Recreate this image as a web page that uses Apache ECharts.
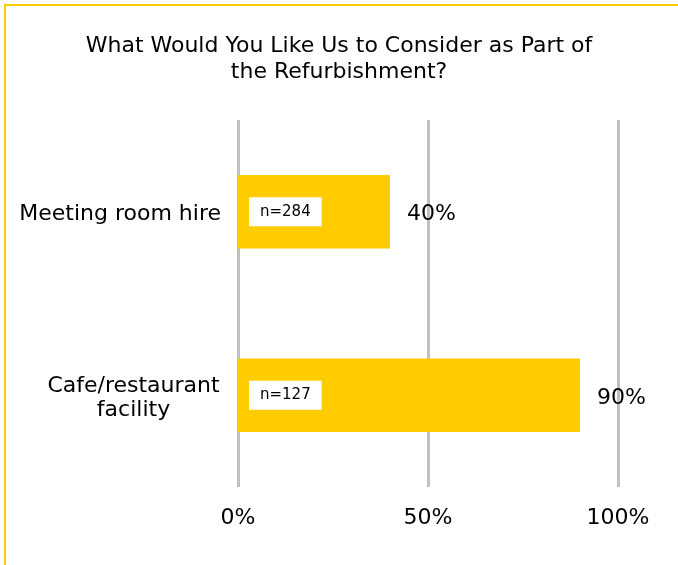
<!DOCTYPE html>
<html><head><meta charset="utf-8">
<script src="https://cdn.jsdelivr.net/npm/echarts@6/dist/echarts.min.js"></script>
<style>html,body{margin:0;padding:0;background:#fff}#c{width:678px;height:565px}</style>
</head><body><div id="c"></div>
<script>
var categories = ['Meeting room hire', 'Cafe/restaurant facility'];
var values = [40, 90];
var sampleSizes = ['n=284', 'n=127'];
var tickValues = [0, 50, 100];

var chart = echarts.init(document.getElementById('c'));
var font = '"DejaVu Sans", Verdana, sans-serif';
chart.setOption({
  animation: false,
  textStyle: { fontFamily: font },
  title: {
    text: 'What Would You Like Us to Consider as Part of\nthe Refurbishment?',
    left: 334, top: 28, textAlign: 'center',
    textStyle: { fontFamily: font, fontSize: 22, fontWeight: 'normal', color: '#000', lineHeight: 26 }
  },
  graphic: [{
    type: 'rect', shape: { x: 5, y: 5, width: 800, height: 700 },
    style: { fill: null, stroke: '#FFCC00', lineWidth: 2 }, silent: true
  }],
  grid: { left: 238, right: 60, top: 120, bottom: 78 },
  xAxis: {
    type: 'value', min: 0, max: 100, interval: 50,
    axisLine: { show: false }, axisTick: { show: false },
    splitLine: { show: true, lineStyle: { color: '#c0c0c0', width: 3 } },
    axisLabel: { formatter: '{value}%', fontSize: 22, color: '#000', margin: 20, fontFamily: font }
  },
  yAxis: {
    type: 'category', data: categories, inverse: true,
    axisLine: { show: false }, axisTick: { show: false },
    axisLabel: {
      fontSize: 22, color: '#000', margin: 17, fontFamily: font, lineHeight: 24,
      padding: [6, 0, 0, 0],
      formatter: function (v) {
        if (v.indexOf('Cafe') === 0) return '{c|Cafe/restaurant}\n{c|facility}';
        return v;
      },
      rich: { c: { width: 175, align: 'center', fontSize: 22, lineHeight: 24, fontFamily: font, color: '#000' } }
    }
  },
  series: [{
    type: 'bar', data: values, barWidth: '40%', barGap: '-100%',
    itemStyle: { color: '#FFCC00' },
    label: { show: true, position: 'right', distance: 17, offset: [0, 3], formatter: '{c}%', fontSize: 22, color: '#000', fontFamily: font }
  }, {
    type: 'bar', data: values, barWidth: '40%',
    itemStyle: { color: 'rgba(0,0,0,0)' },
    label: {
      show: true, position: 'insideLeft', distance: 11,
      formatter: function (p) { return sampleSizes[p.dataIndex]; },
      backgroundColor: '#fff', padding: [7, 11, 7, 11], fontSize: 15, color: '#000', fontFamily: font
    }
  }]
});
</script>
</body></html>
